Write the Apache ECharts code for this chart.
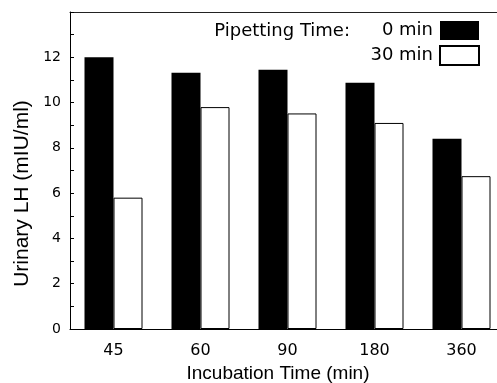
<!DOCTYPE html>
<html>
<head>
<meta charset="utf-8">
<script src="https://cdn.jsdelivr.net/npm/echarts@6/dist/echarts.min.js"></script>
<style>
  html, body { margin: 0; padding: 0; background: #fff; }
  #chart { width: 497px; height: 383px; }
</style>
</head>
<body>
<div id="chart"></div>
<script>
// Urinary LH by incubation time, for two pipetting times
const incubationTimes = ['45', '60', '90', '180', '360'];
const lh0min = [12.0, 11.32, 11.45, 10.87, 8.4];
const lh30min = [5.8, 9.8, 9.52, 9.1, 6.75];
const yTicks = [0, 2, 4, 6, 8, 10, 12];

const FONT = 'DejaVu Sans';
const TITLE_FONT = 'Liberation Sans';
const chart = echarts.init(document.getElementById('chart'), null, { renderer: 'canvas' });

chart.setOption({
  animation: false,
  backgroundColor: '#ffffff',
  textStyle: { fontFamily: FONT, color: '#000' },
  grid: { left: 70, top: 12, width: 435, height: 317, outerBoundsMode: 'none', containLabel: false },
  legend: {
    orient: 'vertical',
    align: 'right',
    right: 17,
    top: 21,
    padding: 0,
    itemWidth: 39,
    itemHeight: 19,
    itemGap: 5,
    icon: 'rect',
    textStyle: { fontFamily: FONT, fontSize: 18, color: '#000', padding: [0, 2, 0, 0] },
    data: ['0 min', '30 min']
  },
  graphic: [{
    type: 'text',
    x: 350,
    y: 31,
    style: {
      text: 'Pipetting Time:', fontFamily: FONT, fontSize: 18, fill: '#000',
      align: 'right', verticalAlign: 'middle'
    }
  }],
  xAxis: [{
    type: 'category',
    data: incubationTimes,
    position: 'bottom',
    axisLine: { lineStyle: { color: '#000', width: 1 } },
    axisTick: { show: false },
    axisLabel: { fontSize: 16, color: '#000', margin: 14, fontFamily: FONT },
    name: 'Incubation Time (min)',
    nameLocation: 'middle',
    nameGap: 35,
    nameTextStyle: {
      fontSize: 19, color: '#000', fontFamily: TITLE_FONT, letterSpacing: 0.7,
      padding: [0, 19, 0, 0]
    }
  }, {
    type: 'category',
    data: incubationTimes,
    position: 'top',
    axisLine: { lineStyle: { color: '#222', width: 1 } },
    axisTick: { show: false },
    axisLabel: { show: false }
  }],
  yAxis: {
    type: 'value',
    min: 0,
    max: 14,
    interval: 2,
    axisLine: { show: true, lineStyle: { color: '#000', width: 1 } },
    axisTick: { show: true, inside: true, length: 4, lineStyle: { color: '#000' } },
    minorTick: { show: true, splitNumber: 2, length: 4, lineStyle: { color: '#000' } },
    splitLine: { show: false },
    axisLabel: {
      fontSize: 14, color: '#000', margin: 9, fontFamily: FONT,
      formatter: v => (yTicks.includes(v) ? String(v) : '')
    },
    name: 'Urinary LH (mIU/ml)',
    nameLocation: 'middle',
    nameGap: 36,
    nameTextStyle: {
      fontSize: 21, color: '#000', fontFamily: TITLE_FONT, letterSpacing: 0.6,
      padding: [0, 46, 0, 0]
    }
  },
  series: [{
    name: '0 min',
    type: 'bar',
    data: lh0min,
    barWidth: 29,
    barGap: '0%',
    itemStyle: { color: '#000', borderColor: '#000', borderWidth: 0 }
  }, {
    name: '30 min',
    type: 'bar',
    data: lh30min,
    barWidth: 29,
    barGap: '0%',
    itemStyle: { color: '#fff', borderColor: '#000', borderWidth: 1 }
  }]
});
</script>
</body>
</html>
